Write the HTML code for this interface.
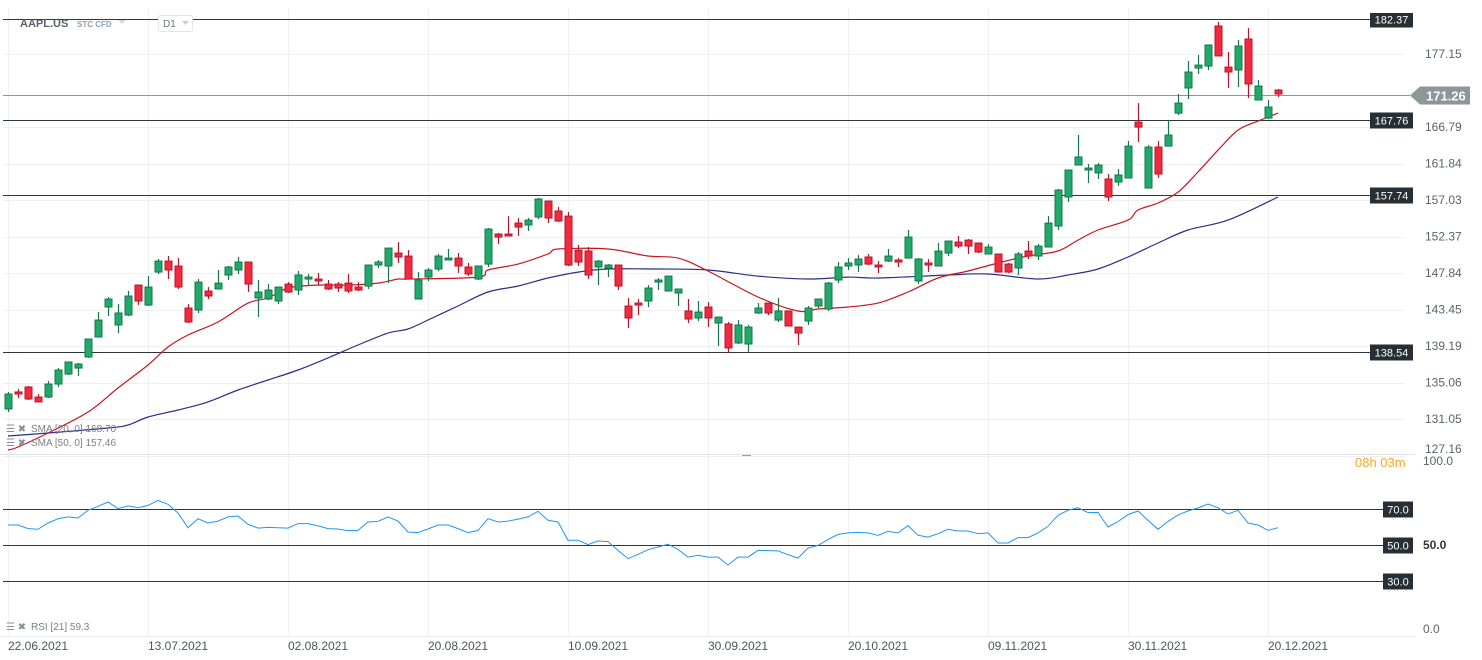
<!DOCTYPE html>
<html><head><meta charset="utf-8">
<style>
html,body{margin:0;padding:0;background:#fff;width:1482px;height:660px;overflow:hidden}
svg{display:block;font-family:"Liberation Sans",sans-serif}
</style></head>
<body>
<svg id="chart" width="1482" height="660" viewBox="0 0 1482 660">
<defs><clipPath id="topclip"><rect x="0" y="13" width="1482" height="660"/></clipPath></defs>
<g id="grid"></g>
<g id="levels" clip-path="url(#topclip)"></g>
<g id="smas"></g>
<g id="candles"></g>
<g id="axis"></g>
<g id="rsi"></g>
<g id="dates"></g>
<g>
  <text x="20" y="27" font-size="11" font-weight="bold" fill="#5a6268">AAPL.US</text>
  <text x="77" y="27" font-size="8" font-weight="bold" fill="#8fa0ae">STC  CFD</text>
  <path d="M118 20 L126 20 L122 24 Z" fill="#d5dadf"/>
  <rect x="158.5" y="15.5" width="34" height="16" rx="2" fill="#fff" stroke="#e3e6e9"/>
  <text x="163" y="27" font-size="10" fill="#6b747b">D1</text>
  <path d="M182 21 L189 21 L185.5 25 Z" fill="#c8ced3"/>
</g>
<g>
  <text x="6" y="432" font-size="10" fill="#8a8f94">☰ ✖</text>
  <text x="31" y="432" font-size="10" fill="#7a7f84">SMA  [20,  0]  168.70</text>
  <text x="6" y="446" font-size="10" fill="#8a8f94">☰ ✖</text>
  <text x="31" y="446" font-size="10" fill="#7a7f84">SMA  [50,  0]  157.46</text>
  <text x="6" y="630" font-size="10" fill="#8a8f94">☰ ✖</text>
  <text x="31" y="630" font-size="10" fill="#7a7f84">RSI  [21]  59.3</text>
  <text x="1355" y="467" font-size="13" fill="#f5a623">08h 03m</text>
</g>
</svg>
<script>
// ---- data ----
const opens  = [132.16,134.03,134.58,133.47,133.47,134.91,136.03,136.70,137.96,140.25,143.77,141.65,142.82,146.40,144.00,147.98,149.33,148.72,143.65,143.41,145.68,145.92,147.62,148.23,149.21,144.84,144.72,144.48,146.52,145.80,147.13,147.13,146.52,146.52,146.64,146.16,146.28,148.84,148.72,150.32,149.95,144.72,147.37,148.35,149.46,149.70,148.60,147.13,148.96,152.70,152.70,154.09,153.84,154.86,156.92,155.63,154.98,150.69,150.57,148.60,148.47,148.84,143.89,144.24,144.48,146.76,145.68,145.44,143.30,142.47,143.77,141.88,141.77,139.56,139.44,143.06,144.24,142.23,143.30,141.41,142.11,143.89,143.53,147.01,148.72,148.84,149.83,148.84,149.33,149.46,149.70,146.89,149.09,148.72,150.32,151.69,151.94,151.57,150.20,150.20,148.96,148.47,150.57,149.95,151.07,153.71,157.44,161.65,160.99,160.60,159.80,159.40,159.93,167.49,158.61,164.07,164.20,168.73,172.27,175.13,175.42,181.32,175.27,174.85,179.38,170.57,168.05,171.98];
const highs  = [134.03,134.36,134.69,133.80,135.25,136.70,137.39,137.27,140.02,143.17,144.96,144.12,145.68,146.40,147.49,149.58,149.95,149.70,144.12,147.13,146.16,148.23,148.72,149.83,149.21,147.01,146.52,146.16,146.76,148.11,147.74,147.86,147.01,146.76,147.74,146.76,148.84,149.46,150.94,151.69,150.69,147.98,148.47,150.20,150.82,150.32,149.09,148.72,153.46,152.83,154.98,154.73,154.73,157.31,156.92,156.15,155.50,151.32,151.07,149.46,148.96,148.84,144.84,144.72,146.40,147.25,147.49,145.92,144.72,144.48,144.36,142.58,142.00,142.23,141.65,144.24,144.24,144.84,143.30,141.41,143.89,144.72,146.76,149.21,149.70,150.07,150.20,149.33,150.82,149.70,153.21,149.70,149.58,151.57,151.82,152.45,152.07,151.57,151.44,150.20,149.09,150.45,151.82,151.44,154.98,158.48,160.99,165.71,161.79,161.92,160.46,161.12,164.89,170.14,164.34,164.89,167.77,171.42,176.16,177.03,178.50,181.92,177.47,179.23,181.02,173.41,170.57,172.13];
const lows   = [131.83,133.36,133.14,132.93,133.36,134.58,135.92,135.81,137.85,140.25,142.70,140.71,142.70,144.00,143.89,147.74,147.13,145.92,141.88,143.06,144.72,145.92,147.01,147.74,145.56,142.58,144.60,144.12,145.44,145.20,146.28,146.40,145.80,145.56,145.44,145.68,145.92,148.47,146.64,149.09,147.13,144.72,146.89,148.11,149.46,147.86,147.49,147.01,148.60,151.44,152.45,152.45,153.08,154.60,154.09,154.22,148.72,148.72,147.13,146.40,147.37,145.80,141.30,142.82,143.77,145.80,145.68,143.89,141.88,142.11,141.41,139.21,138.41,139.44,138.53,142.94,142.82,142.00,141.53,139.33,141.65,143.65,143.30,146.64,148.23,147.98,148.84,147.86,149.21,148.60,149.70,146.52,147.98,148.72,149.95,150.94,150.20,150.32,150.20,147.98,147.86,147.62,149.58,149.46,151.07,153.21,156.79,161.65,159.27,159.80,156.92,158.88,159.93,164.75,158.61,159.93,164.20,168.47,170.71,174.27,174.85,176.89,172.27,172.41,170.85,170.57,167.91,170.99];
const closes = [133.80,133.80,133.25,132.93,134.91,136.48,137.39,137.16,140.02,142.23,144.72,143.06,145.08,144.48,146.16,149.33,148.23,146.16,142.00,146.76,145.08,146.64,148.60,149.21,146.52,145.56,145.80,146.16,145.56,147.62,147.37,146.89,145.92,146.04,145.68,145.80,148.84,149.21,150.94,149.83,147.13,147.01,148.23,149.95,149.70,148.72,147.74,148.72,153.33,152.32,152.45,153.58,154.47,157.18,154.73,154.35,148.84,149.21,147.62,149.33,148.84,146.28,142.47,144.00,146.04,147.01,147.49,145.92,142.35,143.17,142.47,142.58,138.99,141.65,141.41,143.65,143.06,143.30,141.53,140.71,143.65,144.72,146.64,148.60,149.09,149.58,148.96,148.60,149.95,149.21,152.32,149.58,148.84,150.57,151.82,151.19,151.19,150.45,151.07,147.98,147.98,150.20,149.95,151.19,154.09,158.35,160.99,162.73,161.25,161.65,157.44,160.33,164.20,166.80,164.07,160.46,165.71,170.14,174.56,175.56,178.50,176.89,174.56,178.35,172.84,172.55,169.59,171.42];
const sma20Idx = [0,1,4,8,11,14,16,18,21,24,26,28,31,34,37,39,40,47,48,51,54,55,60,64,67,70,75,79,81,84,87,90,93,96,99,102,105,107,109,112,113,115,117,119,121,123,125,127];
const sma20Val = [127.76,128.07,129.56,131.83,134.47,137.05,139.10,140.48,142.00,144.24,144.84,146.04,146.40,146.40,146.64,147.13,147.13,147.37,148.23,148.96,150.20,150.82,150.82,149.95,149.70,148.11,144.96,143.30,143.53,143.77,144.24,145.56,147.25,148.11,149.09,149.95,150.57,151.94,153.21,154.47,155.76,156.66,158.08,160.72,163.66,166.39,167.63,168.73];
const sma50Idx = [0,4,10,12,14,17,20,23,26,29,32,35,38,40,42,45,48,51,54,57,60,65,70,75,80,84,87,94,98,103,106,109,112,115,118,122,127];
const sma50Val = [129.24,129.56,130.10,130.42,131.29,132.05,132.93,134.25,135.36,136.48,137.85,139.33,140.71,141.18,142.23,143.89,145.56,146.28,147.25,147.98,148.35,148.35,148.23,147.49,147.13,147.37,147.25,147.62,147.74,147.13,147.62,148.35,149.83,151.57,153.21,154.47,157.44];
const rsiVal = [61.1,61.1,59.1,58.7,62.2,64.6,65.6,65.0,69.3,71.5,73.9,70.2,71.7,70.7,72.0,74.8,72.6,67.8,59.6,64.6,62.2,63.3,65.6,66.1,61.5,59.4,59.8,59.6,59.4,61.9,61.9,60.6,59.1,58.9,58.0,58.1,62.8,63.1,65.6,63.3,57.2,56.9,58.9,61.1,61.1,59.1,56.9,58.1,64.6,62.8,63.3,64.4,65.6,68.7,63.7,62.8,52.6,52.6,50.2,52.2,51.9,47.0,42.4,44.8,47.4,48.9,50.4,47.6,43.3,44.3,43.3,43.3,38.9,43.3,43.3,47.0,46.9,46.7,44.6,42.8,48.3,49.8,53.0,55.9,56.7,57.0,56.7,55.4,57.6,56.7,60.7,55.4,54.4,56.3,58.7,57.8,57.8,56.3,56.7,51.1,51.1,54.1,54.1,56.7,60.4,66.5,69.3,70.7,68.0,68.1,60.0,63.0,66.9,68.9,63.7,58.7,63.1,66.7,68.9,70.6,72.8,70.7,67.2,69.3,62.2,61.1,58.1,59.6];
const priceTicks = [177.15,166.79,161.84,157.03,152.37,147.84,143.45,139.19,135.06,131.05,127.16];
const levelVals = [182.37,167.76,157.74,138.54];
const lastPrice = 171.26;
const rsiLevels = [70,50,30];
const dateLabels = ["22.06.2021","13.07.2021","02.08.2021","20.08.2021","10.09.2021","30.09.2021","20.10.2021","09.11.2021","30.11.2021","20.12.2021"];
const dateIdx = [0,14,28,42,56,70,84,98,112,126];

// ---- scales ----
const NS='http://www.w3.org/2000/svg';
function xI(i){return 8+10*i;}
function yP(p){return 19+1211*Math.log(182.37/p);}
function yR(v){return 545-(v-50)*1.8;}
function mk(tag,attrs,parent){const e=document.createElementNS(NS,tag);for(const k in attrs)e.setAttribute(k,attrs[k]);parent.appendChild(e);return e;}
const G=id=>document.getElementById(id);

// grid
const grid=G('grid');
priceTicks.forEach(t=>{
  const y=Math.round(yP(t))+0.5;
  const l=mk('line',{x1:3,x2:1405,y1:y,y2:y,stroke:'#eef0f2','stroke-width':1},grid);
  
  
});
dateIdx.forEach(i=>{
  const x=xI(i)+0.5;
  const l=mk('line',{x1:x,x2:x,y1:8,y2:636,stroke:'#f0f1f3','stroke-width':1},grid);
  
  
});
mk('line',{x1:0,x2:1415,y1:454.5,y2:454.5,stroke:'#e2e4e6'},grid);
mk('line',{x1:0,x2:1415,y1:636.5,y2:636.5,stroke:'#eceef0'},grid);
mk('line',{x1:742,x2:751,y1:455.5,y2:455.5,stroke:'#9aa0a5'},grid);

// levels
const lv=G('levels');
levelVals.forEach(v=>{
  const y=Math.round(yP(v))+0.5;
  const l=mk('line',{x1:3,x2:1370,y1:y,y2:y,stroke:'#2e363c','stroke-width':1},lv);
  
  
  const r=mk('rect',{x:1370,y:y-8,width:43,height:16,fill:'#262f36'},lv);
  
  
  const t=mk('text',{x:1391.5,y:y+4,'font-size':11,fill:'#fff','text-anchor':'middle'},lv);
  t.textContent=v.toFixed(2);
  
  
});
{
  const y=Math.round(yP(lastPrice))+0.5;
  const l=mk('line',{x1:3,x2:1410,y1:y,y2:y,stroke:'#8c969b','stroke-width':1},lv);
  
  
  const p=mk('path',{d:`M1410 ${y} L1420 ${y-9} L1470 ${y-9} L1470 ${y+9} L1420 ${y+9} Z`,fill:'#8c969b'},lv);
  
  
  const t=mk('text',{x:1426,y:y+5,'font-size':13,'font-weight':'bold',fill:'#fff'},lv);
  t.textContent=lastPrice.toFixed(2);
  
  
}

// price axis
const ax=G('axis');
priceTicks.forEach(t=>{
  const y=Math.min(yP(t),449);
  const tx=mk('text',{x:1425,y:y+4,'font-size':12,fill:'#5b6268'},ax);
  tx.textContent=t.toFixed(2);
  
  
});

// SMAs (smooth curve through read points)
function poly(idx,vals,color,name){
  const P=idx.map((i,k)=>[xI(i),yP(vals[k])]);
  let d='M'+P[0][0]+' '+P[0][1].toFixed(1);
  for(let k=0;k<P.length-1;k++){
    const p0=P[Math.max(k-1,0)],p1=P[k],p2=P[k+1],p3=P[Math.min(k+2,P.length-1)];
    const c1x=p1[0]+(p2[0]-p0[0])/6,c1y=p1[1]+(p2[1]-p0[1])/6;
    const c2x=p2[0]-(p3[0]-p1[0])/6,c2y=p2[1]-(p3[1]-p1[1])/6;
    d+=` C${c1x.toFixed(1)} ${c1y.toFixed(1)} ${c2x.toFixed(1)} ${c2y.toFixed(1)} ${p2[0]} ${p2[1].toFixed(1)}`;
  }
  const pl=mk('path',{d:d,fill:'none',stroke:color,'stroke-width':1.2},G('smas'));
  
  
}
poly(sma50Idx,sma50Val,'#2a2f8a','sma50-line');
poly(sma20Idx,sma20Val,'#c8161d','sma20-line');

// candles
const cg=G('candles');
opens.forEach((o,i)=>{
  const c=closes[i],h=highs[i],lo=lows[i];
  const up=c>=o;
  const stroke=up?'#17774a':'#b5162a', fill=up?'#21a86a':'#f02b3f';
  const x=xI(i);
  const g=mk('g',{},cg);
  
  
  mk('line',{x1:x+0.5,x2:x+0.5,y1:yP(h),y2:yP(lo),stroke:stroke,'stroke-width':1.2},g);
  const top=yP(Math.max(o,c)),bot=yP(Math.min(o,c));
  mk('rect',{x:x-3,y:top,width:7,height:Math.max(bot-top,1.5),fill:fill,stroke:stroke,'stroke-width':1},g);
});

// RSI
const rg=G('rsi');
rsiLevels.forEach(v=>{
  const y=Math.round(yR(v))+0.5;
  const l=mk('line',{x1:3,x2:1383,y1:y,y2:y,stroke:'#2e363c'},rg);
  
  
  const r=mk('rect',{x:1383,y:y-8,width:30,height:16,fill:'#262f36'},rg);
  
  
  const t=mk('text',{x:1398,y:y+4,'font-size':11,fill:'#fff','text-anchor':'middle'},rg);
  t.textContent=v.toFixed(1);
  
  
});
[[100,yR(100)+10,false],[50,yR(50)+4,true],[0,yR(0)-2,false]].forEach(a=>{
  const t=mk('text',{x:1423,y:a[1],'font-size':12,fill:a[2]?'#2e363c':'#5b6268','font-weight':a[2]?'bold':'normal'},rg);
  t.textContent=a[0].toFixed(1);
  
  
});
{
  const pts=rsiVal.map((v,i)=>xI(i)+','+yR(v).toFixed(1)).join(' ');
  const pl=mk('polyline',{points:pts,fill:'none',stroke:'#2196f3','stroke-width':1},rg);
  
  
}

// dates
const dg=G('dates');
dateLabels.forEach((d,k)=>{
  const t=mk('text',{x:xI(dateIdx[k]),y:650,'font-size':12,fill:'#4d555b'},dg);
  t.textContent=d;
  
  
});
</script>
</body></html>
